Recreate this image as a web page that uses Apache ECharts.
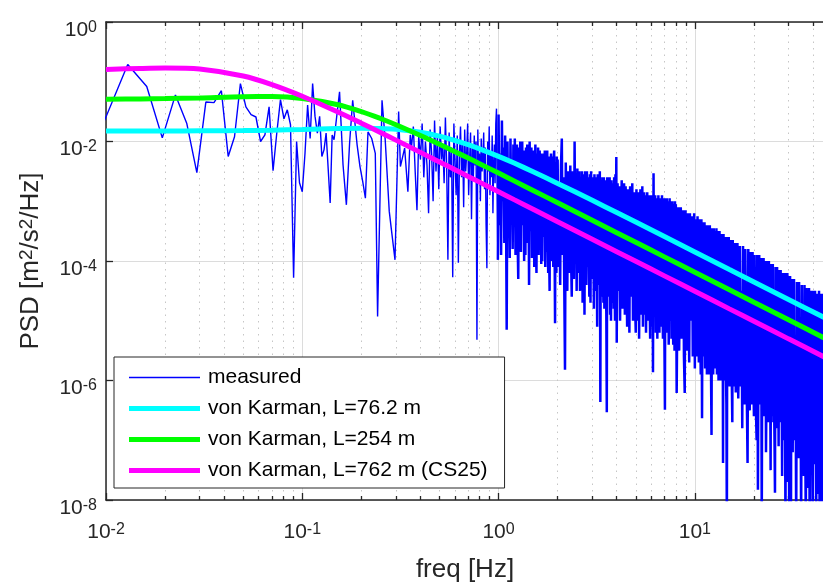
<!DOCTYPE html>
<html><head><meta charset="utf-8">
<script src="https://cdn.jsdelivr.net/npm/echarts@6/dist/echarts.min.js"></script>
<style>html,body{margin:0;padding:0;background:#fff}#c{width:823px;height:583px}</style>
</head><body><div id="c"></div><script>
// ---------------- data ----------------
const xMajorTicks = [0.01, 0.1, 1, 10];
const xMinorTicks = [0.02,0.03,0.04,0.05,0.06,0.07,0.08,0.09,0.2,0.3,0.4,0.5,0.6,0.7,0.8,0.9,2,3,4,5,6,7,8,9,20,30,40];
const yTicks = [1e-8, 1e-6, 1e-4, 1e-2, 1];
const seriesNames = ['measured', 'von Karman, L=76.2 m', 'von Karman, L=254 m', 'von Karman, L=762 m (CS25)'];

// von Karman curves, frequency [Hz] and log10 PSD
const vkFreq = [0.01,0.015,0.02,0.03,0.05,0.07,0.1,0.15,0.2,0.25,0.3,0.4,0.5,0.6,0.7,0.8,1,1.2,1.5,2,3,4,5,7,10,15,20,30,46];
const vk76Log = [-1.824,-1.823,-1.823,-1.821,-1.817,-1.810,-1.800,-1.784,-1.777,-1.781,-1.795,-1.845,-1.911,-1.983,-2.054,-2.123,-2.249,-2.361,-2.506,-2.701,-2.984,-3.189,-3.349,-3.591,-3.848,-4.142,-4.350,-4.643,-4.952];
const vk254Log = [-1.291,-1.287,-1.282,-1.270,-1.250,-1.248,-1.279,-1.381,-1.500,-1.615,-1.719,-1.899,-2.046,-2.171,-2.277,-2.371,-2.529,-2.659,-2.819,-3.026,-3.318,-3.526,-3.687,-3.931,-4.189,-4.482,-4.691,-4.984,-5.294];
const vk762Log = [-0.793,-0.777,-0.770,-0.788,-0.904,-1.047,-1.242,-1.499,-1.694,-1.849,-1.977,-2.182,-2.342,-2.473,-2.584,-2.680,-2.841,-2.973,-3.134,-3.343,-3.636,-3.844,-4.005,-4.249,-4.507,-4.801,-5.009,-5.303,-5.612];

// measured PSD: low-frequency FFT bins (bin width 1/310 Hz) and log10 PSD
const binWidth = 1 / 310;
const measLowBins = [3,4,5,6,7,8,9,10,11,12,13,14,15,16,17,18,19,20,21,22,23,24,25,26,27,28,29,30,31,32,33,34,35,36,37,38,39,40,41,43,44,45,48,50,52,54,56,59,61,63,65,67,70,73,75,79,82,86,88,92,96,98,103,107,110];
const measLowLog = [-1.70,-0.71,-1.08,-1.94,-1.22,-1.70,-2.52,-1.34,-1.35,-1.15,-2.25,-1.92,-1.03,-1.42,-1.55,-1.59,-2.00,-1.89,-1.42,-2.49,-1.85,-1.30,-1.62,-1.47,-1.72,-4.28,-2.00,-2.69,-2.84,-2.20,-1.39,-1.95,-1.03,-1.58,-1.86,-1.58,-2.25,-2.14,-1.86,-3.03,-1.89,-1.97,-1.17,-2.39,-3.06,-2.03,-1.31,-2.06,-2.42,-2.67,-2.95,-1.84,-1.95,-2.20,-4.93,-1.31,-1.97,-3.17,-3.45,-3.98,-1.50,-2.42,-2.11,-2.84,-1.89];

// measured PSD, higher bands: start frequency, spacing [Hz], log10 PSD values
const measMidStart = [0.36, 0.008];
const measMidLog = [
-2.10,-1.75,-2.50,-3.15,-1.90,-2.30,-1.70,-2.60,-2.00,-2.40,
-3.20,-1.80,-2.20,-3.00,-1.65,-2.50,-1.90,-2.80,-1.75,-2.30,
-2.05,-2.70,-1.60,-2.40,-3.98,-1.85,-2.60,-2.10,-4.27,-1.70,
-2.30,-2.90,-1.90,-4.03,-2.20,-1.75,-2.60,-2.00,-3.10,-1.80,
-2.50,-2.20,-1.70,-2.90,-2.30,-1.85,-3.30,-2.10,-2.60,-1.90,
-2.40,-2.00,-5.32,-1.80,-2.70,-2.20,-3.00,-1.95,-2.50,-2.30,
-1.85,-2.80,-2.10,-3.40,-4.12,-2.00,-2.50,-1.75,-2.90,-2.20,
-2.60,-1.90,-3.20,-2.40,-2.05,-2.70,-1.70,-1.45,-3.00,-3.98];
const measOct1Start = [1, 0.01];
const measOct1Log = [
-1.55,-3.40,-2.20,-3.90,-1.65,-3.00,-2.10,-3.70,-1.90,-2.80,
-5.15,-2.00,-3.50,-2.30,-3.95,-1.95,-3.20,-2.40,-3.80,-2.05,
-3.30,-1.95,-3.90,-2.50,-2.05,-3.60,-4.30,-2.10,-3.10,-2.00,
-3.85,-2.30,-2.00,-3.40,-2.15,-4.00,-2.60,-3.90,-2.10,-3.20,
-2.05,-3.70,-2.40,-4.40,-2.00,-3.50,-2.80,-2.10,-3.95,-2.50,
-3.60,-2.15,-4.10,-2.70,-2.05,-3.80,-4.20,-2.20,-3.30,-2.10,
-3.90,-2.40,-2.15,-3.70,-2.20,-4.05,-2.35,-4.00,-2.90,-2.20,
-3.60,-2.60,-2.15,-4.10,-3.00,-2.20,-3.85,-2.15,-3.40,-4.20,
-2.25,-3.90,-4.50,-2.30,-3.20,-2.20,-4.00,-3.60,-2.25,-3.10,
-4.10,-2.30,-2.15,-3.80,-5.04,-2.35,-3.40,-4.20,-2.25,-3.70];
const measOct2Start = [2, 0.02];
const measOct2Log = [
-2.30,-4.10,-2.70,-4.40,-2.40,-1.95,-3.90,-2.60,-4.30,-5.82,
-2.35,-3.70,-4.50,-2.50,-3.20,-4.20,-2.40,-3.90,-4.60,-2.50,
-3.40,-4.30,-2.00,-3.80,-2.60,-4.50,-2.45,-3.60,-4.20,-2.50,
-4.50,-2.60,-3.90,-2.50,-4.70,-3.20,-2.55,-4.90,-2.50,-3.80,
-4.40,-2.50,-4.10,-2.60,-3.70,-4.60,-2.55,-4.70,-2.50,-3.50,
-4.30,-2.60,-3.40,-4.80,-2.55,-3.90,-4.50,-2.60,-3.60,-5.10,
-2.55,-4.40,-2.70,-3.90,-2.50,-6.36,-2.65,-3.80,-4.60,-2.60,
-3.50,-4.70,-2.60,-4.80,-3.20,-2.65,-4.20,-4.90,-6.53,-2.60,
-4.00,-2.65,-4.60,-3.10,-2.60,-4.90,-3.50,-5.00,-2.65,-3.90,
-4.70,-2.70,-3.60,-4.80,-2.60,-4.10,-5.00,-2.55,-3.80,-2.26];
const measOct3Start = [4, 0.04];
const measOct3Log = [
-5.37,-2.70,-4.50,-2.75,-5.00,-3.40,-2.65,-4.80,-3.80,-2.70,
-4.90,-2.75,-4.20,-5.10,-2.80,-3.90,-5.20,-2.75,-4.60,-3.30,
-2.70,-5.00,-3.80,-2.85,-4.70,-5.20,-2.80,-4.10,-5.00,-2.85,
-5.30,-3.60,-2.80,-4.90,-4.20,-2.75,-5.10,-3.70,-2.85,-4.90,
-2.90,-5.20,-4.00,-2.85,-5.00,-3.50,-2.90,-4.60,-5.30,-2.90,
-4.20,-5.10,-2.90,-5.86,-2.53,-4.80,-3.60,-2.90,-5.20,-4.10,
-2.95,-5.30,-3.90,-2.90,-4.90,-5.20,-2.95,-4.40,-3.40,-5.10,
-2.90,-4.70,-5.30,-2.95,-4.10,-5.40,-6.49,-2.95,-4.80,-3.70,
-2.95,-5.20,-4.30,-3.00,-5.40,-3.80,-2.95,-5.00,-4.40,-3.00,
-5.30,-3.60,-3.00,-4.90,-5.40,-3.05,-4.20,-5.50,-3.00,-4.60];
const measOct4Start = [8, 0.08];
const measOct4Log = [
-3.05,-6.21,-4.40,-3.10,-5.50,-4.00,-3.10,-5.30,-4.60,-3.15,
-5.60,-6.21,-3.15,-4.80,-5.50,-3.20,-4.20,-5.70,-3.20,-5.00,
-3.90,-3.25,-5.60,-4.60,-3.20,-5.80,-3.30,-4.90,-5.60,-3.25,
-4.40,-5.70,-3.30,-5.20,-5.90,-3.30,-6.63,-3.35,-4.70,-5.60,
-3.35,-5.80,-4.10,-3.40,-5.90,-4.80,-3.40,-5.50,-5.90,-3.40,
-4.60,-5.70,-6.91,-3.45,-5.10,-5.90,-3.45,-4.50,-5.80,-3.50,
-5.30,-3.45,-5.90,-4.40,-3.50,-6.00,-4.90,-3.50,-5.70,-6.00,
-3.55,-4.70,-5.90,-3.55,-7.38,-3.55,-5.40,-6.00,-4.30,-3.60,
-5.80,-6.40,-8.50,-3.60,-5.20,-6.00,-3.60,-4.80,-6.10,-3.65,
-5.60,-4.40,-3.65,-6.10,-6.70,-3.65,-5.00,-6.00,-3.70,-6.10];
const measOct5Start = [16, 0.16];
const measOct5Log = [
-3.70,-6.20,-4.80,-3.70,-6.30,-5.40,-3.75,-6.10,-4.50,-6.80,
-3.75,-5.70,-6.40,-3.80,-5.10,-6.30,-7.38,-3.80,-5.90,-6.50,
-3.85,-4.90,-6.40,-3.85,-5.60,-6.60,-3.90,-5.30,-6.50,-7.00,
-3.90,-7.83,-5.00,-3.90,-6.40,-5.70,-3.95,-8.50,-4.60,-6.50,
-3.95,-6.60,-5.40,-4.00,-7.20,-6.00,-4.00,-5.20,-6.70,-4.00,
-6.30,-5.50,-7.50,-4.05,-6.60,-5.00,-4.05,-6.70,-6.10,-6.90,
-7.88,-4.10,-6.40,-5.60,-4.10,-6.80,-5.10,-7.10,-4.15,-6.50,
-5.80,-4.15,-6.70,-6.00,-7.60,-4.20,-6.20,-5.40,-4.20,-7.00,
-6.40,-8.50,-4.20,-5.80,-6.80,-4.20,-7.70,-6.20,-4.25,-8.50,
-5.50,-4.25,-6.90,-8.50,-4.30,-6.30,-5.70,-7.20,-4.30,-6.80];
const measOct6Start = [32, 0.28];
const measOct6Log = [
-4.30,-7.00,-5.60,-8.50,-4.35,-6.50,-7.30,-4.35,-6.90,-5.80,
-8.50,-4.40,-7.10,-6.00,-7.60,-4.40,-6.70,-8.50,-4.45,-7.20,
-5.90,-7.80,-4.45,-8.50,-6.60,-4.50,-7.30,-6.10,-8.50,-4.50,
-6.90,-7.40,-4.50,-6.30,-8.50,-4.55,-7.20,-6.00,-7.90,-4.50,
-8.50,-6.80,-4.55,-7.40,-6.20,-8.50,-4.55,-7.00,-6.40,-8.50];

// ---------------- build ----------------
const FONT = '"Liberation Sans", Arial, Helvetica, sans-serif';
const AX = '#262626';
const X_MIN = 0.01, X_MAX = 45.5, Y_MIN = 1e-8, Y_MAX = 1;

const measuredLow = [];
measLowBins.forEach((k, i) => measuredLow.push([k * binWidth, Math.pow(10, measLowLog[i])]));
measMidLog.forEach((v, i) => measuredLow.push([measMidStart[0] + i * measMidStart[1], Math.pow(10, v)]));
const measuredHigh = [measuredLow[measuredLow.length - 1]];
[[measOct1Start, measOct1Log], [measOct2Start, measOct2Log], [measOct3Start, measOct3Log],
 [measOct4Start, measOct4Log], [measOct5Start, measOct5Log], [measOct6Start, measOct6Log]].forEach(([s, arr]) => {
  arr.forEach((v, i) => measuredHigh.push([s[0] + i * s[1], Math.pow(10, v)]));
});
const curve = arr => vkFreq.map((f, i) => [f, Math.pow(10, arr[i])]);

function powLabel(v) { return '{b|10}{s|' + Math.round(Math.log10(v)) + '}'; }
const richLbl = {
  b: { fontSize: 21, lineHeight: 21, verticalAlign: 'bottom', fontFamily: FONT, color: AX },
  s: { fontSize: 16, lineHeight: 16, verticalAlign: 'top', padding: [0, 0, 10, 0], fontFamily: FONT, color: AX }
};

function xAx(pos, ticks, len, opts) {
  return Object.assign({
    type: 'log', position: pos, min: X_MIN, max: X_MAX, logBase: 10,
    axisLine: { show: false },
    axisTick: { show: true, inside: true, length: len, customValues: ticks, lineStyle: { color: AX, width: 1.3 } },
    axisLabel: { show: false },
    splitLine: { show: false },
    minorTick: { show: false }, minorSplitLine: { show: false }
  }, opts || {});
}

const lineIcon = 'path://M0,0H71V5H0Z';
const thinIcon = 'path://M0,0H71V1.6H0Z';

const chart = echarts.init(document.getElementById('c'), null, { renderer: 'canvas' });
chart.setOption({
  animation: false,
  backgroundColor: '#ffffff',
  grid: { left: 106, top: 22, width: 718, height: 478, containLabel: false, outerBoundsMode: 'none' },
  legend: {
    orient: 'vertical', left: 114, top: 357,
    padding: [10, 17, 7, 15], itemGap: 10, itemWidth: 71, itemHeight: 21,
    backgroundColor: '#ffffff', borderColor: AX, borderWidth: 1, selectedMode: false,
    symbolKeepAspect: true,
    itemStyle: { borderWidth: 0 },
    textStyle: { fontSize: 21, lineHeight: 21, color: '#000', fontFamily: FONT, padding: [0, 0, 0, 3] },
    data: [
      { name: seriesNames[0], icon: thinIcon, itemStyle: { color: '#0000ff', borderWidth: 0 } },
      { name: seriesNames[1], icon: lineIcon, itemStyle: { color: '#00ffff', borderWidth: 0 } },
      { name: seriesNames[2], icon: lineIcon, itemStyle: { color: '#00ff00', borderWidth: 0 } },
      { name: seriesNames[3], icon: lineIcon, itemStyle: { color: '#ff00ff', borderWidth: 0 } }
    ]
  },
  xAxis: [
    xAx('bottom', xMajorTicks, 7, {
      axisLine: { show: true, onZero: false, lineStyle: { color: AX, width: 1.5 } },
      axisLabel: { show: true, customValues: xMajorTicks, formatter: powLabel, rich: richLbl, margin: 22 },
      splitLine: { show: true, lineStyle: { color: '#dcdcdc', width: 1 } },
      name: 'freq [Hz]', nameLocation: 'middle', nameGap: 57,
      nameTextStyle: { fontSize: 26, color: AX, fontFamily: FONT }
    }),
    xAx('bottom', xMinorTicks, 4, {
      splitLine: { show: true, lineStyle: { color: '#c6c6c6', width: 1, type: [1.5, 5] } }
    }),
    xAx('top', xMajorTicks, 7, {
      axisLine: { show: true, onZero: false, lineStyle: { color: AX, width: 1.5 } }
    }),
    xAx('top', xMinorTicks, 4, {})
  ],
  yAxis: [{
    type: 'log', position: 'left', min: Y_MIN, max: Y_MAX, logBase: 10,
    axisLine: { show: true, onZero: false, lineStyle: { color: AX, width: 1.5 } },
    axisTick: { show: true, inside: true, length: 7, customValues: yTicks, lineStyle: { color: AX, width: 1.3 } },
    axisLabel: { show: true, customValues: yTicks, formatter: powLabel, rich: richLbl, margin: 9, padding: [16, 0, 0, 0] },
    splitLine: { show: true, lineStyle: { color: '#dcdcdc', width: 1 } },
    minorTick: { show: false },
    name: '{a|PSD [m}{s|2}{a|/s}{s|2}{a|/Hz]}', nameLocation: 'middle', nameGap: 60, nameRotate: 90,
    nameTextStyle: {
      rich: {
        a: { fontSize: 26, lineHeight: 26, verticalAlign: 'bottom', fontFamily: FONT, color: AX },
        s: { fontSize: 19, lineHeight: 19, verticalAlign: 'top', padding: [0, 0, 12, 0], fontFamily: FONT, color: AX }
      }
    }
  }],
  series: [
    { name: seriesNames[0], type: 'line', data: measuredLow, xAxisIndex: 0, yAxisIndex: 0,
      symbol: 'none', showSymbol: false, clip: true, sampling: null, emphasis: { disabled: true },
      lineStyle: { color: '#0000ff', width: 1.4 }, itemStyle: { color: '#0000ff' }, z: 2 },
    { name: seriesNames[0], type: 'line', data: measuredHigh, xAxisIndex: 0, yAxisIndex: 0,
      symbol: 'none', showSymbol: false, clip: true, sampling: null, emphasis: { disabled: true },
      lineStyle: { color: '#0000ff', width: 2.5 }, itemStyle: { color: '#0000ff' }, z: 2 },
    { name: seriesNames[1], type: 'line', data: curve(vk76Log), symbol: 'none', smooth: 0.3, clip: true,
      emphasis: { disabled: true }, lineStyle: { color: '#00ffff', width: 5 }, itemStyle: { color: '#00ffff' }, z: 3 },
    { name: seriesNames[2], type: 'line', data: curve(vk254Log), symbol: 'none', smooth: 0.3, clip: true,
      emphasis: { disabled: true }, lineStyle: { color: '#00ff00', width: 5 }, itemStyle: { color: '#00ff00' }, z: 3 },
    { name: seriesNames[3], type: 'line', data: curve(vk762Log), symbol: 'none', smooth: 0.3, clip: true,
      emphasis: { disabled: true }, lineStyle: { color: '#ff00ff', width: 5 }, itemStyle: { color: '#ff00ff' }, z: 3 }
  ]
});
</script></body></html>
